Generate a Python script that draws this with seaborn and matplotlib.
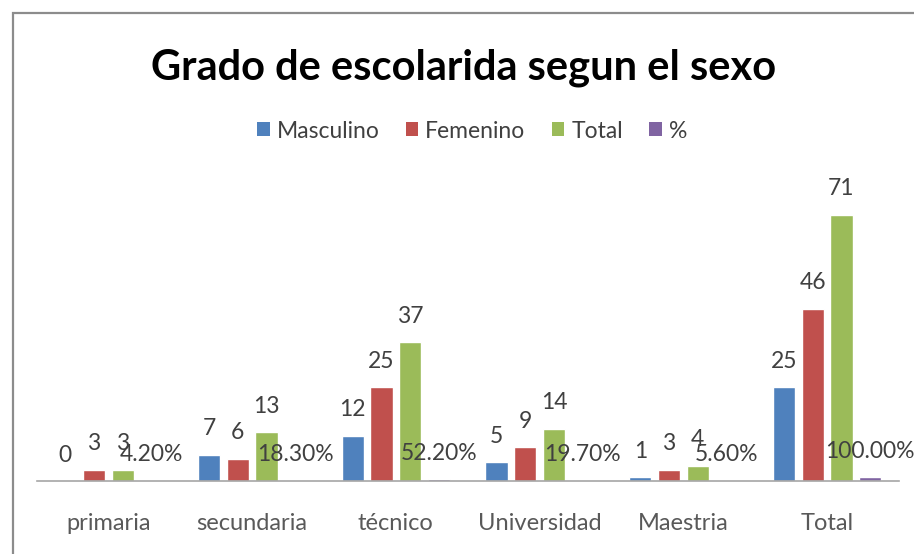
import matplotlib
matplotlib.use("Agg")
import matplotlib.pyplot as plt
import seaborn as sns
import pandas as pd
from matplotlib.patches import Rectangle, Patch

categories = ["primaria", "secundaria", "técnico", "Universidad", "Maestria", "Total"]
masculino = [0, 7, 12, 5, 1, 25]
femenino = [3, 6, 25, 9, 3, 46]
total = [3, 13, 37, 14, 4, 71]
porcentaje = [0.042, 0.183, 0.522, 0.197, 0.056, 1.0]
series_names = ["Masculino", "Femenino", "Total", "%"]
colors = ["#4F81BD", "#C0504D", "#9BBB59", "#8064A2"]

rows = []
for name, vals in zip(series_names, [masculino, femenino, total, porcentaje]):
    for c, v in zip(categories, vals):
        rows.append({"cat": c, "serie": name, "val": v})
df = pd.DataFrame(rows)

sns.set_theme(style="white")
plt.rcParams["font.family"] = ["Lato", "DejaVu Sans"]

W, H = 914, 554
fig = plt.figure(figsize=(W / 100, H / 100), dpi=100)
ax = fig.add_axes([36.5 / W, 1 - 481 / H, 862.5 / W, 300 / H])

sns.barplot(data=df, x="cat", y="val", hue="serie", order=categories,
            hue_order=series_names, palette=colors, width=0.8, gap=0.22,
            ax=ax, legend=False, saturation=1)

ax.set_ylim(0, 80)
ax.set_xlim(-0.5, 5.5)
ax.set_xlabel("")
ax.set_ylabel("")
ax.set_yticks([])
for s in ["top", "right", "left"]:
    ax.spines[s].set_visible(False)
ax.spines["bottom"].set_color("#A6A6A6")
ax.spines["bottom"].set_linewidth(1.2)
ax.tick_params(axis="x", length=0, pad=23, labelsize=17, labelcolor="#595959")

for cont, name in zip(ax.containers, series_names):
    for bar in cont:
        h = bar.get_height()
        if name == "%":
            txt = f"{h * 100:.2f}%"
        else:
            txt = f"{int(round(h))}"
        ax.annotate(txt, (bar.get_x() + bar.get_width() / 2, h),
                    xytext=(0, 26), textcoords="offset pixels",
                    ha="center", va="center", fontsize=16.5, color="#404040")

handles = [Patch(facecolor=c, edgecolor="none", label=n) for c, n in zip(colors, series_names)]
fig.legend(handles=handles, loc="center", bbox_to_anchor=(472 / W, 1 - 131 / H), ncol=4,
           frameon=False, fontsize=16.5, handlelength=0.55, handleheight=0.55,
           handletextpad=0.3, columnspacing=1.15, labelcolor="#404040")

fig.text(464 / W, 1 - 68 / H, "Grado de escolarida segun el sexo", ha="center", va="center",
         fontsize=30, fontweight="bold", color="#000000")

fig.patches.append(Rectangle((13 / W, -0.05), 1.1, 1 - 13 / H + 0.05, transform=fig.transFigure,
                             fill=False, edgecolor="#8C8C8C", linewidth=1.6))

fig.savefig("out.png", dpi=100)
